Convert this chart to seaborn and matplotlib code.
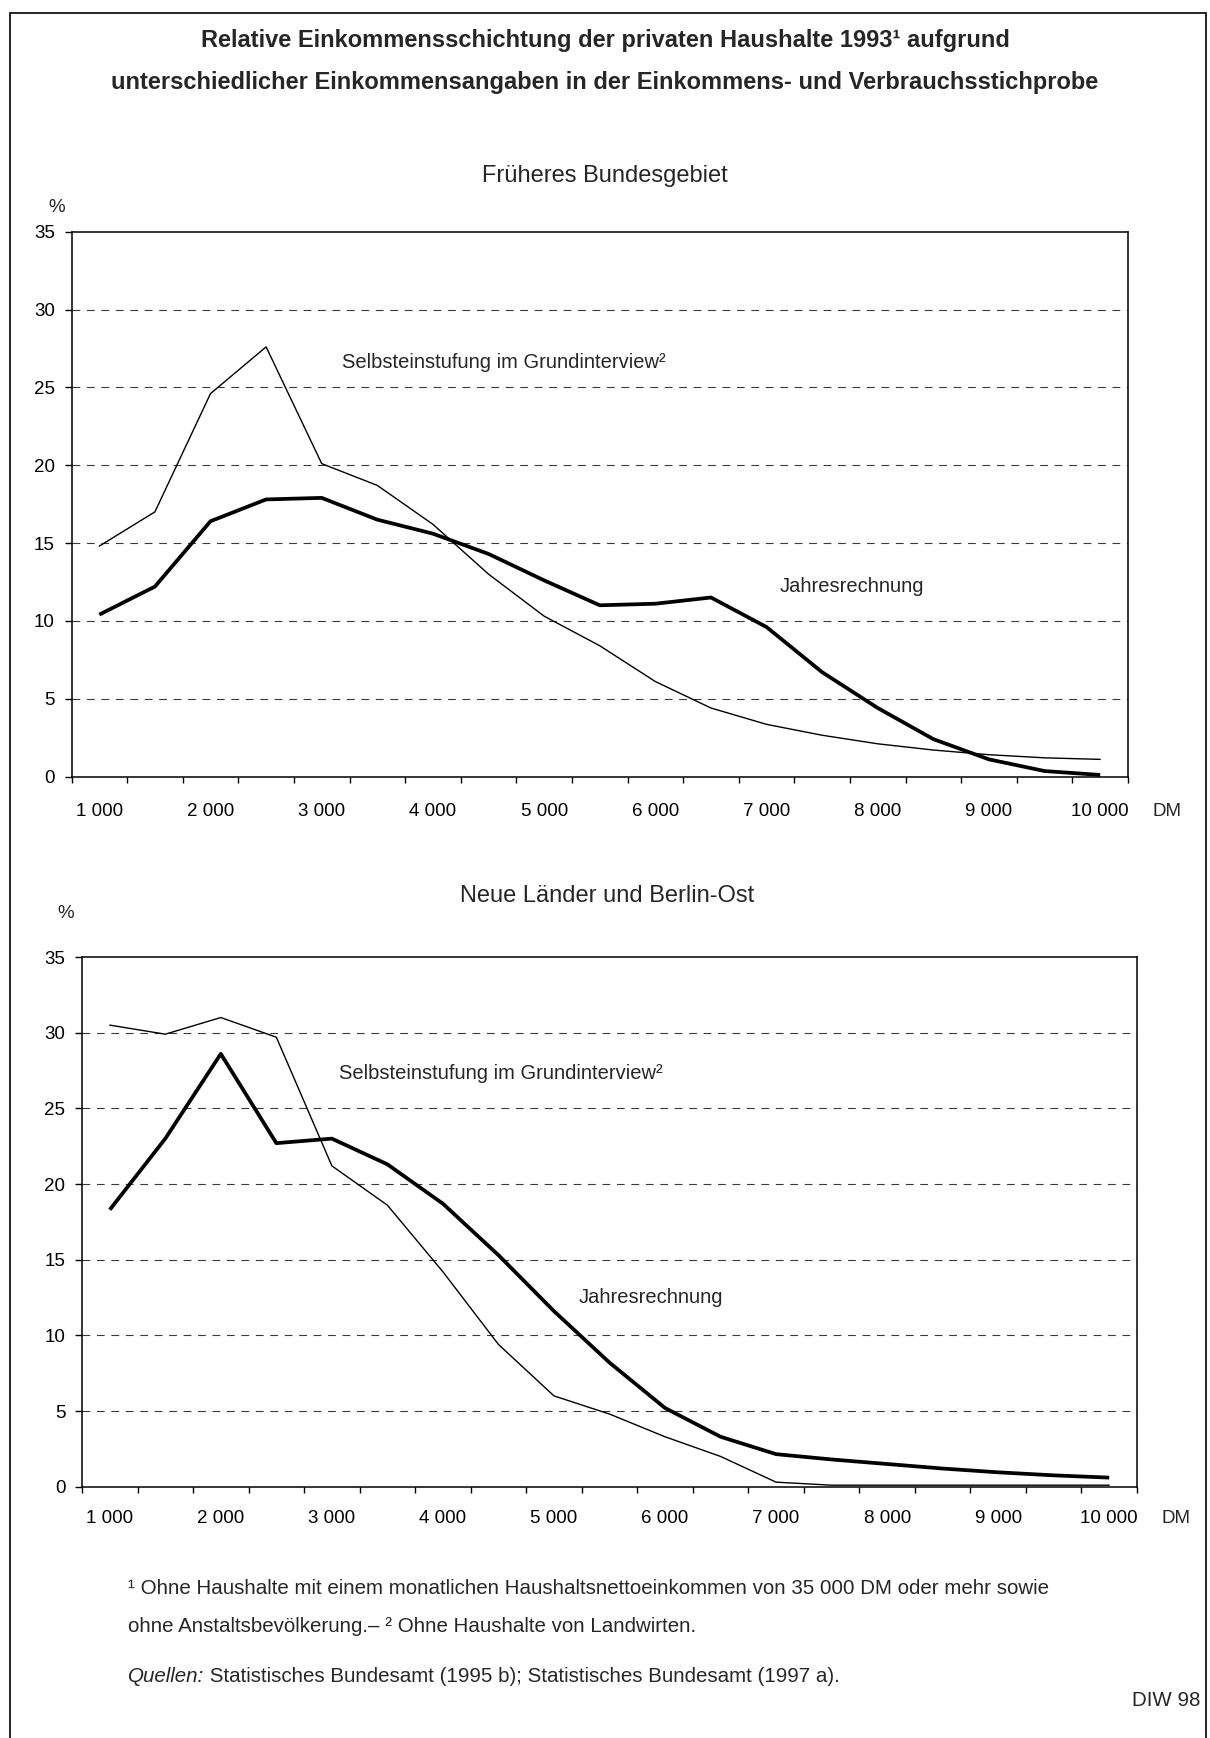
import numpy as np
import pandas as pd
import seaborn as sns
import matplotlib.pyplot as plt
from matplotlib.patches import Rectangle

# monthly household net income classes (DM), one point every 500 DM
dm = list(range(1000, 10001, 500))

# Früheres Bundesgebiet, share of households in %
west_selbst = [14.8, 17.0, 24.6, 27.6, 20.1, 18.7, 16.2, 13.0, 10.3, 8.4,
               6.1, 4.4, 3.35, 2.65, 2.1, 1.7, 1.4, 1.2, 1.1]
west_jahr = [10.4, 12.2, 16.4, 17.8, 17.9, 16.5, 15.6, 14.3, 12.6, 11.0,
             11.1, 11.5, 9.6, 6.7, 4.4, 2.4, 1.1, 0.35, 0.1]

# Neue Länder und Berlin-Ost
ost_selbst = [30.5, 29.9, 31.0, 29.7, 21.2, 18.6, 14.2, 9.4, 6.0, 4.8,
              3.3, 2.0, 0.3, 0.1, 0.1, 0.1, 0.1, 0.1, 0.1]
ost_jahr = [18.3, 23.0, 28.6, 22.7, 23.0, 21.3, 18.7, 15.3, 11.6, 8.2,
            5.2, 3.3, 2.15, 1.8, 1.5, 1.2, 0.95, 0.75, 0.6]

label_dm = list(range(1000, 10001, 1000))
x_labels = ["1 000", "2 000", "3 000", "4 000", "5 000",
            "6 000", "7 000", "8 000", "9 000", "10 000"]
y_ticks = [0, 5, 10, 15, 20, 25, 30, 35]

lab_selbst = "Selbsteinstufung im Grundinterview²"
lab_jahr = "Jahresrechnung"

sns.set_theme(style="white")
plt.rcParams['font.family'] = ['Liberation Sans', 'DejaVu Sans']

W, H = 1210, 1738
fig = plt.figure(figsize=(W / 100, H / 100), dpi=100)


def px_axes(left, top, right, bottom):
    return fig.add_axes([left / W, 1 - bottom / H, (right - left) / W, (bottom - top) / H])


def px_text(x, y, s, **kw):
    return fig.text(x / W, 1 - y / H, s, **kw)


def panel(ax, selbst, jahr, xpad, pos_selbst, pos_jahr):
    df = pd.DataFrame({"DM": dm * 2,
                       "Anteil": selbst + jahr,
                       "Reihe": [lab_selbst] * len(dm) + [lab_jahr] * len(dm)})
    sns.lineplot(data=df[df.Reihe == lab_selbst], x="DM", y="Anteil", ax=ax,
                 color="black", lw=1.0, legend=False, solid_joinstyle="round")
    sns.lineplot(data=df[df.Reihe == lab_jahr], x="DM", y="Anteil", ax=ax,
                 color="black", lw=2.7, legend=False,
                 solid_joinstyle="round", solid_capstyle="butt")

    ax.set_xlim(750, 10250)
    ax.set_ylim(0, 35)
    ax.set_xlabel("")
    ax.set_ylabel("")

    ax.set_yticks(y_ticks)
    ax.set_yticklabels([str(v) for v in y_ticks], fontsize=13.5)
    ax.set_xticks(label_dm)
    ax.set_xticklabels(x_labels, fontsize=13.5)
    ax.set_xticks(np.arange(750, 10251, 500), minor=True)
    ax.tick_params(axis="x", which="major", length=0, pad=xpad, colors="black")
    ax.tick_params(axis="x", which="minor", bottom=True, length=4.5, width=1.0,
                   direction="out", color="black")
    ax.tick_params(axis="y", left=True, length=5, width=1.0, direction="out",
                   pad=7, colors="black")

    for v in y_ticks[1:-1]:
        ax.axhline(v, color="#3a3a3a", lw=0.8, ls=(0, (7, 6)), zorder=0)

    for sp in ax.spines.values():
        sp.set_visible(True)
        sp.set_color("black")
        sp.set_linewidth(1.1)

    ax.annotate("DM", xy=(10600, 0), xycoords=("data", "axes fraction"),
                xytext=(0, -xpad), textcoords="offset points",
                ha="center", va="top", fontsize=13.5)

    ax.text(pos_selbst[0], pos_selbst[1], lab_selbst, ha="left", va="center", fontsize=14.5)
    ax.text(pos_jahr[0], pos_jahr[1], lab_jahr, ha="left", va="center", fontsize=14.5)


# title
px_text(605, 40, "Relative Einkommensschichtung der privaten Haushalte 1993¹ aufgrund",
        ha="center", va="center", fontsize=17, fontweight="bold")
px_text(605, 83, "unterschiedlicher Einkommensangaben in der Einkommens- und Verbrauchsstichprobe",
        ha="center", va="center", fontsize=17, fontweight="bold")

# upper panel
px_text(605, 176, "Früheres Bundesgebiet", ha="center", va="center", fontsize=17)
px_text(57, 208, "%", ha="center", va="center", fontsize=13.5)
ax1 = px_axes(71.5, 231.7, 1128, 776.5)
panel(ax1, west_selbst, west_jahr, 19, (3180, 26.6), (7120, 12.2))

# lower panel
px_text(607, 896, "Neue Länder und Berlin-Ost", ha="center", va="center", fontsize=17)
px_text(66, 914, "%", ha="center", va="center", fontsize=13.5)
ax2 = px_axes(82, 957, 1137, 1486.7)
panel(ax2, ost_selbst, ost_jahr, 17, (3060, 27.3), (5220, 12.5))

# footnotes
px_text(128, 1588, "¹ Ohne Haushalte mit einem monatlichen Haushaltsnettoeinkommen von 35 000 DM oder mehr sowie",
        ha="left", va="center", fontsize=14.8)
px_text(128, 1627, "ohne Anstaltsbevölkerung.– ² Ohne Haushalte von Landwirten.",
        ha="left", va="center", fontsize=14.8)
q = px_text(128, 1677, "Quellen:", ha="left", va="center", fontsize=14.8, fontstyle="italic")
ax2.annotate(" Statistisches Bundesamt (1995 b); Statistisches Bundesamt (1997 a).",
             xy=(1, 0.5), xycoords=q, ha="left", va="center", fontsize=14.8,
             annotation_clip=False)
px_text(1200, 1700, "DIW 98", ha="right", va="center", fontsize=14.8)

# outer frame
fig.add_artist(Rectangle((10 / W, 1 - 1745 / H), (1206 - 10) / W, (1745 - 13) / H,
                         transform=fig.transFigure, fill=False, lw=1.2, ec="black"))

fig.savefig("out.png", dpi=100)
